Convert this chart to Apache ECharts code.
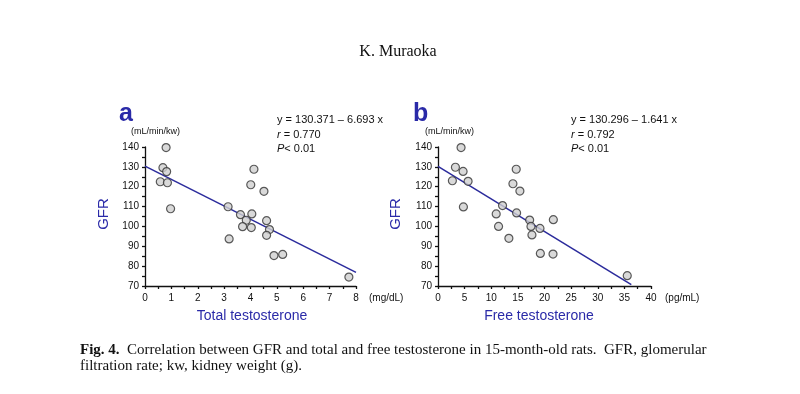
<!DOCTYPE html>
<html><head><meta charset="utf-8">
<script src="https://cdn.jsdelivr.net/npm/echarts@6/dist/echarts.min.js"></script>
<style>html,body{margin:0;padding:0;background:#fff}#c{width:800px;height:394px}</style>
</head><body><div id="c"></div>
<script>
// Panel a: total testosterone (mg/dL) vs GFR
const totalT = [0.80,0.68,0.82,0.58,0.85,0.97,3.15,3.19,3.62,3.84,3.70,4.05,4.03,4.01,4.13,4.51,4.61,4.72,4.61,4.89,5.22,7.73];
const gfrA   = [139.7,129.6,127.6,122.5,122.0,108.9,109.9,93.7,105.9,103.1,99.9,106.3,99.4,121.0,128.8,117.7,102.9,98.4,95.5,85.3,85.9,74.5];
// Panel b: free testosterone (pg/mL) vs GFR
const freeT  = [4.33,3.27,4.71,2.70,5.65,4.77,12.12,10.93,11.37,13.31,14.07,14.69,14.76,15.38,17.21,17.46,17.64,19.15,19.22,21.66,21.60,35.54];
const gfrB   = [139.7,129.8,127.7,123.0,122.7,109.8,110.5,106.3,100.0,94.0,121.5,128.8,106.8,117.8,103.2,100.0,95.7,99.0,86.4,103.4,86.1,75.2];
// Regression line endpoints (x, y) as drawn
const fitA = [[0,130.371],[8,76.83]];
const fitB = [[0,130.296],[36.3,70.73]];
const yTicks = [70,140,10];
const xTicksA = [0,8,1];
const xTicksB = [0,40,5];

const blue = '#2a2aa8';
const lineBlue = '#2b2b9c';
const axisStyle = {color:'#111', width:1.3};
function xAxis(idx, t){
  return {type:'value', gridIndex:idx, min:t[0], max:t[1], interval:t[2],
    axisLine:{show:true,onZero:false,lineStyle:axisStyle},
    axisTick:{show:true,length:3,lineStyle:axisStyle},
    minorTick:{show:true,splitNumber:2,length:3,lineStyle:axisStyle},
    splitLine:{show:false},
    axisLabel:{color:'#111',fontSize:10,fontFamily:'Liberation Sans, Arial',margin:7}};
}
function yAxis(idx){
  return {type:'value', gridIndex:idx, min:yTicks[0], max:yTicks[1], interval:yTicks[2],
    axisLine:{show:true,onZero:false,lineStyle:axisStyle},
    axisTick:{show:true,length:3,lineStyle:axisStyle},
    minorTick:{show:true,splitNumber:2,length:3,lineStyle:axisStyle},
    splitLine:{show:false},
    axisLabel:{color:'#111',fontSize:10,fontFamily:'Liberation Sans, Arial',margin:6}};
}
const pts = (xs, ys) => xs.map((x,i)=>[x,ys[i]]);
const scatterStyle = {color:'#cfcfcf', borderColor:'#333', borderWidth:1.2};
const F = 'Liberation Sans, Arial, sans-serif';
const S = 'Liberation Serif, Times New Roman, serif';
function txt(x,y,text,style){ return {type:'text', x:x, y:y, style:Object.assign({text:text, fontFamily:F, fill:'#111'}, style)}; }
function eq(x,y,lines){
  return {type:'text', x:x, y:y, style:{text:lines, fontFamily:F, fontSize:11, fill:'#111', lineHeight:14.5,
    rich:{i:{fontStyle:'italic',fontSize:11,fontFamily:F}}}};
}

const chart = echarts.init(document.getElementById('c'));
chart.setOption({
  animation:false,
  grid:[{left:145, top:147, width:211, height:139},{left:438, top:147, width:213, height:139}],
  xAxis:[xAxis(0,xTicksA), xAxis(1,xTicksB)],
  yAxis:[yAxis(0), yAxis(1)],
  series:[
    {type:'line', xAxisIndex:0, yAxisIndex:0, data:fitA, symbol:'none', lineStyle:{color:lineBlue,width:1.5}, z:1},
    {type:'scatter', xAxisIndex:0, yAxisIndex:0, data:pts(totalT,gfrA), symbolSize:8, itemStyle:scatterStyle, z:2},
    {type:'line', xAxisIndex:1, yAxisIndex:1, data:fitB, symbol:'none', lineStyle:{color:lineBlue,width:1.5}, z:1},
    {type:'scatter', xAxisIndex:1, yAxisIndex:1, data:pts(freeT,gfrB), symbolSize:8, itemStyle:scatterStyle, z:2}
  ],
  graphic:[
    txt(398,52,'K. Muraoka',{fontFamily:S,fontSize:16,align:'center',verticalAlign:'middle'}),
    txt(119,114,'a',{fontSize:25,fontWeight:'bold',fill:blue,verticalAlign:'middle'}),
    txt(413,114,'b',{fontSize:25,fontWeight:'bold',fill:blue,verticalAlign:'middle'}),
    txt(131,132,'(mL/min/kw)',{fontSize:9,verticalAlign:'middle'}),
    txt(425,132,'(mL/min/kw)',{fontSize:9,verticalAlign:'middle'}),
    eq(277,113,'y = 130.371 \u2013 6.693 x\n{i|r} = 0.770\n{i|P}< 0.01'),
    eq(571,113,'y = 130.296 \u2013 1.641 x\n{i|r} = 0.792\n{i|P}< 0.01'),
    {type:'text', x:104, y:214, rotation:Math.PI/2, style:{text:'GFR', fontFamily:F, fontSize:15, fill:blue, align:'center', verticalAlign:'middle'}},
    {type:'text', x:396, y:214, rotation:Math.PI/2, style:{text:'GFR', fontFamily:F, fontSize:15, fill:blue, align:'center', verticalAlign:'middle'}},
    txt(252,316,'Total testosterone',{fontSize:14,fill:blue,align:'center',verticalAlign:'middle'}),
    txt(539,316,'Free testosterone',{fontSize:14,fill:blue,align:'center',verticalAlign:'middle'}),
    txt(369,298,'(mg/dL)',{fontSize:10,verticalAlign:'middle'}),
    txt(665,298,'(pg/mL)',{fontSize:10,verticalAlign:'middle'}),
    {type:'text', x:80, y:358, style:{text:'{b|Fig. 4.}  Correlation between GFR and total and free testosterone in 15-month-old rats.  GFR, glomerular\nfiltration rate; kw, kidney weight (g).',
      fontFamily:S, fontSize:15, fill:'#111', lineHeight:16, verticalAlign:'middle',
      rich:{b:{fontWeight:'bold',fontFamily:S,fontSize:15}}}}
  ]
});
</script></body></html>
